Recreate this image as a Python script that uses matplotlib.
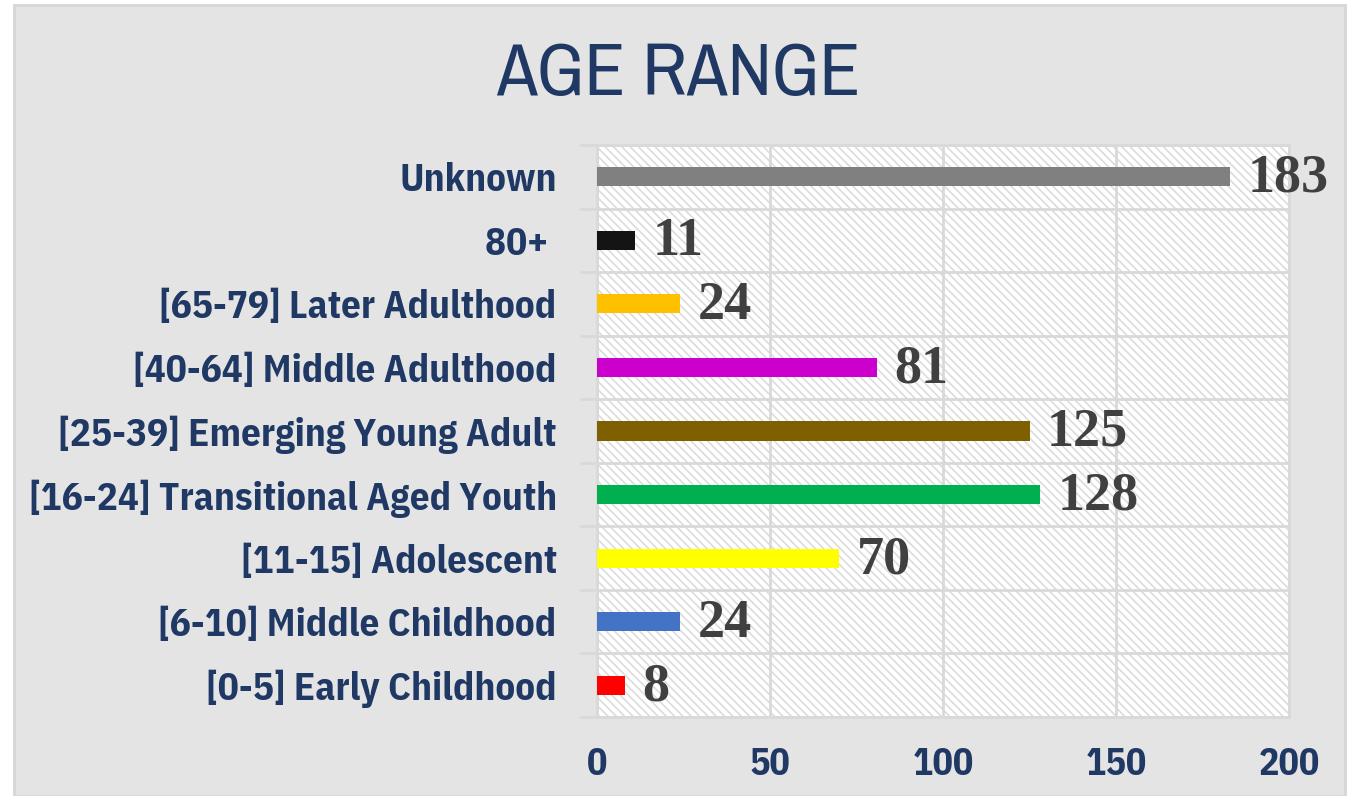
import numpy as np
import matplotlib.pyplot as plt
from matplotlib.patches import Rectangle
from matplotlib.textpath import TextPath
from matplotlib.font_manager import FontProperties

categories = ["[0-5] Early Childhood", "[6-10] Middle Childhood", "[11-15] Adolescent",
              "[16-24] Transitional Aged Youth", "[25-39] Emerging Young Adult",
              "[40-64] Middle Adulthood", "[65-79] Later Adulthood", "80+ ", "Unknown"]
counts = [8, 24, 70, 128, 125, 81, 24, 11, 183]
colors = ["#FF0000", "#4472C4", "#FFFF00", "#00B050", "#7F6000",
          "#CC00CC", "#FFC000", "#141414", "#808080"]
xticks = [0, 50, 100, 150, 200]

NAVY = "#1F3864"
GRID = "#D9D9D9"
TITLE_FONT = "Archivo Narrow"
LABEL_FONT = "IBM Plex Sans Condensed"


def fit_size(text, family, weight, width_px):
    # font size (pt) that makes text about width_px wide at dpi 100
    fp = FontProperties(family=family, weight=weight)
    w = TextPath((0, 0), text, size=10, prop=fp).get_extents().width
    return 10 * (width_px * 0.72) / w


title_size = fit_size("AGE RANGE", TITLE_FONT, "normal", 361)
label_size = fit_size("[16-24] Transitional Aged Youth", LABEL_FONT, "bold", 524)
tick_size = label_size * 0.97

plt.rcParams["hatch.linewidth"] = 1.2
plt.rcParams["hatch.color"] = "#DCDCDC"

fig = plt.figure(figsize=(13.57, 7.96), dpi=100)
fig.patch.set_facecolor("white")
fig.patches.append(Rectangle((14 / 1357, 0), 1331 / 1357, 791 / 796, transform=fig.transFigure,
                             facecolor="#E4E4E4", edgecolor="#D6D6D6", linewidth=2, zorder=-5))

ax = fig.add_axes([597 / 1357, 1 - 717 / 796, 692 / 1357, 572 / 796])
ax.set_facecolor("white")
ax.patch.set_hatch("\\\\\\\\")
ax.patch.set_edgecolor("#DCDCDC")
ax.patch.set_linewidth(0)

y = np.arange(len(categories))
ax.barh(y, counts, height=0.3, color=colors, zorder=3)
for yi, v in zip(y, counts):
    ax.text(v + 5, yi - 0.03, str(v), va="center", ha="left", fontsize=39,
            fontweight="bold", family="Liberation Serif", color="#404040", zorder=4)

ax.set_xlim(0, 200)
ax.set_ylim(-0.5, len(categories) - 0.5)
ax.set_xticks(xticks)
ax.set_xticklabels([str(t) for t in xticks], fontsize=tick_size, fontweight="bold",
                   family=LABEL_FONT, color=NAVY)
ax.set_yticks(y)
ax.set_yticklabels(categories, fontsize=label_size, fontweight="bold", family=LABEL_FONT,
                   color=NAVY)
ax.set_yticks(np.arange(-0.5, len(categories)), minor=True)
ax.tick_params(axis="y", which="major", length=0, pad=29)
ax.tick_params(axis="y", which="minor", length=12, width=2, color=GRID)
ax.tick_params(axis="x", length=0, pad=21)
ax.grid(axis="x", color=GRID, linewidth=2, zorder=1)
ax.grid(axis="y", which="minor", color=GRID, linewidth=2, zorder=1)
ax.set_axisbelow(True)
for s in ax.spines.values():
    s.set_color(GRID)
    s.set_linewidth(2)

fig.text(678 / 1357, 1 - 95 / 796, "AGE RANGE", ha="center", va="baseline",
         fontsize=title_size, family=TITLE_FONT, color=NAVY)

fig.savefig("out.png", dpi=100)
